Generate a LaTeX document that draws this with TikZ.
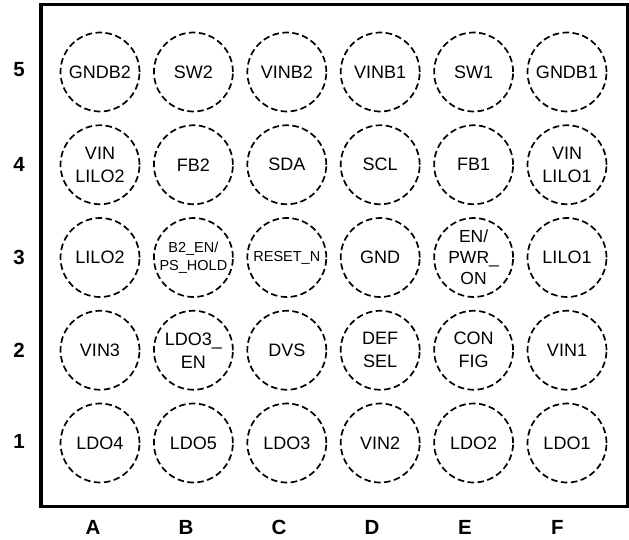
\documentclass[tikz,border=0pt]{standalone}
\usepackage{fontspec}
\setmainfont{Liberation Sans}
\usetikzlibrary{positioning}

\tikzset{
  bump/.style={draw, circle, dash pattern=on 6.5pt off 3.5pt, line width=1.7pt,
    minimum size=79pt, inner sep=0pt, align=center,
    font=\fontsize{18}{23}\selectfont},
  small bump/.style={bump, font=\fontsize{14.5}{18.5}\selectfont},
  axislabel/.style={font=\fontsize{20.5}{22}\selectfont\bfseries, inner sep=0pt}
}

\begin{document}
\begin{tikzpicture}[x=1pt,y=-1pt]
\useasboundingbox (0,0) rectangle (629,539);
% package outline
\draw [line width=3.2pt] (41,4.5) rectangle (627.5,506.7);
% row 5
\node [bump] (a5) at (100,72) {GNDB2};
\node [bump] (b5) at (193.4,72) {SW2};
\node [bump] (c5) at (286.8,72) {VINB2};
\node [bump] (d5) at (380.2,72) {VINB1};
\node [bump] (e5) at (473.6,72) {SW1};
\node [bump] (f5) at (567,72) {GNDB1};
% row 4
\node [bump] (a4) at (100,164.75) {VIN\\LILO2};
\node [bump] (b4) at (193.4,164.75) {FB2};
\node [bump] (c4) at (286.8,164.75) {SDA};
\node [bump] (d4) at (380.2,164.75) {SCL};
\node [bump] (e4) at (473.6,164.75) {FB1};
\node [bump] (f4) at (567,164.75) {VIN\\LILO1};
% row 3
\node [bump] (a3) at (100,257.5) {LILO2};
\node [small bump] (b3) at (193.4,257.5) {B2\_EN/\\PS\_HOLD};
\node [small bump] (c3) at (286.8,257.5) {RESET\_N};
\node [bump] (d3) at (380.2,257.5) {GND};
\node [bump, font=\fontsize{17.5}{21}\selectfont] (e3) at (473.6,257.5) {EN/\\PWR\_\\ON};
\node [bump] (f3) at (567,257.5) {LILO1};
% row 2
\node [bump] (a2) at (100,350.25) {VIN3};
\node [bump] (b2) at (193.4,350.25) {LDO3\_\\EN};
\node [bump] (c2) at (286.8,350.25) {DVS};
\node [bump] (d2) at (380.2,350.25) {DEF\\SEL};
\node [bump] (e2) at (473.6,350.25) {CON\\FIG};
\node [bump] (f2) at (567,350.25) {VIN1};
% row 1
\node [bump] (a1) at (100,443) {LDO4};
\node [bump] (b1) at (193.4,443) {LDO5};
\node [bump] (c1) at (286.8,443) {LDO3};
\node [bump] (d1) at (380.2,443) {VIN2};
\node [bump] (e1) at (473.6,443) {LDO2};
\node [bump] (f1) at (567,443) {LDO1};
% row numbers
\node [axislabel] (r5) at (19,70) {5};
\node [axislabel] (r4) at (19,164.75) {4};
\node [axislabel] (r3) at (19,257.5) {3};
\node [axislabel] (r2) at (19,350.25) {2};
\node [axislabel] (r1) at (19,441) {1};
% column letters
\node [axislabel] (ca) at (93,527.5) {A};
\node [axislabel] (cb) at (186,527.5) {B};
\node [axislabel] (cc) at (279,527.5) {C};
\node [axislabel] (cd) at (372,527.5) {D};
\node [axislabel] (ce) at (465,527.5) {E};
\node [axislabel] (cf) at (557.5,527.5) {F};
\end{tikzpicture}
\end{document}
